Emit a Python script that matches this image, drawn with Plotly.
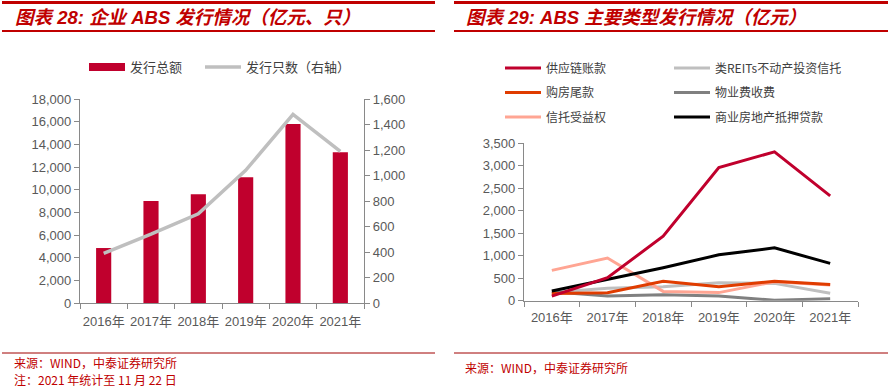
import plotly.graph_objects as go

W, H = 890, 391

# ---------------- data ----------------
years = ["2016年", "2017年", "2018年", "2019年", "2020年", "2021年"]
issue_amount = [4850, 9000, 9600, 11100, 15800, 13300]      # 发行总额 (亿元)
issue_count = [390, 540, 700, 1040, 1480, 1190]             # 发行只数 (右轴)

supply_chain = [100, 510, 1435, 2960, 3310, 2330]           # 供应链账款
reits = [185, 275, 310, 400, 385, 165]                      # 类REITs不动产投资信托
home_tail = [160, 178, 430, 310, 435, 362]                  # 购房尾款
property_fee = [200, 104, 130, 104, 8, 45]                  # 物业费收费
trust = [674, 948, 207, 180, 422, 348]                      # 信托受益权
cmbs = [215, 480, 733, 1020, 1175, 830]                     # 商业房地产抵押贷款

RED = "#C0002D"
TITLE_RED = "#C00000"
AXIS = "#898989"
TICK = "#595959"
NUM_FONT = "Arial, Liberation Sans, Noto Sans CJK SC"
CJK = "Noto Sans CJK SC"


def fx(p):
    return p / W


def fy(p):
    return 1 - p / H


fig = go.Figure()

# ---------------- left chart ----------------
fig.add_trace(go.Bar(x=years, y=issue_amount, marker=dict(color=RED, line=dict(width=0)),
                     width=0.32, showlegend=False, xaxis="x", yaxis="y", name="发行总额"))
fig.add_trace(go.Scatter(x=[years[0]], y=[None], mode="lines", name="发行总额",
                         line=dict(color=RED, width=8), xaxis="x", yaxis="y", legend="legend"))
fig.add_trace(go.Scatter(x=years, y=issue_count, mode="lines", name="发行只数（右轴）",
                         line=dict(color="#BFBFBF", width=3.5), xaxis="x", yaxis="y2", legend="legend4"))

# ---------------- right chart ----------------
right_series = [
    ("类REITs不动产投资信托", reits, "#BFBFBF", "legend3", 1),
    ("物业费收费", property_fee, "#808080", "legend3", 2),
    ("信托受益权", trust, "#FFA593", "legend2", 3),
    ("购房尾款", home_tail, "#E03C00", "legend2", 2),
    ("商业房地产抵押贷款", cmbs, "#000000", "legend3", 3),
    ("供应链账款", supply_chain, RED, "legend2", 1),
]
for name, vals, col, leg, rank in right_series:
    fig.add_trace(go.Scatter(x=years, y=vals, mode="lines", name=name,
                             line=dict(color=col, width=3), xaxis="x2", yaxis="y3",
                             legend=leg, legendgroup=name, legendrank=rank))

axis_common = dict(showline=True, linecolor=AXIS, linewidth=1.3, ticks="outside",
                   tickcolor=AXIS, ticklen=5, showgrid=False, zeroline=False, tickangle=0,
                   automargin=False,
                   tickfont=dict(family=NUM_FONT, size=13, color=TICK))

leg_common = dict(itemwidth=36, bgcolor="rgba(0,0,0,0)", xanchor="left", yanchor="top",
                  xref="paper", yref="paper")

fig.update_layout(
    width=W, height=H,
    margin=dict(l=0, r=0, t=0, b=0, autoexpand=False),
    paper_bgcolor="white", plot_bgcolor="white",
    font=dict(family=CJK),
    xaxis=dict(domain=[fx(80), fx(364)], anchor="y", type="category", tickson="boundaries",
               range=[-0.5, 5.5], ticklabelstandoff=6, **axis_common),
    yaxis=dict(domain=[fy(303), fy(99)], range=[0, 18000], dtick=2000, tickformat=",",
               anchor="x", **axis_common),
    yaxis2=dict(overlaying="y", side="right", range=[0, 1600], dtick=200, tickformat=",",
                anchor="x", **axis_common),
    xaxis2=dict(domain=[fx(524), fx(858)], anchor="y3", type="category", tickson="boundaries",
                range=[-0.5, 5.5], ticklabelstandoff=5, **axis_common),
    yaxis3=dict(domain=[fy(300.7), fy(143.3)], range=[0, 3500], dtick=500, tickformat=",",
                anchor="x2", **axis_common),
    legend=dict(orientation="v", x=fx(84), y=fy(52),
                font=dict(family=CJK, size=13, color="#404040"), **leg_common),
    legend4=dict(orientation="v", x=fx(200), y=fy(52),
                 font=dict(family=CJK, size=13, color="#404040"), **leg_common),
    legend2=dict(orientation="v", x=fx(500), y=fy(53.5), tracegroupgap=5.5,
                 font=dict(family=CJK, size=12, color="#404040"), **leg_common),
    legend3=dict(orientation="v", x=fx(669), y=fy(53.5), tracegroupgap=5.5,
                 font=dict(family=CJK, size=12, color="#404040"), **leg_common),
)

# ---------------- decoration: rules, titles, sources ----------------
shapes = []
for x0, x1 in [(2, 435), (454, 888)]:
    shapes.append(dict(type="line", xref="paper", yref="paper", x0=fx(x0), x1=fx(x1),
                       y0=fy(2.5), y1=fy(2.5), line=dict(color=TITLE_RED, width=3)))
    shapes.append(dict(type="line", xref="paper", yref="paper", x0=fx(x0), x1=fx(x1),
                       y0=fy(31), y1=fy(31), line=dict(color=TITLE_RED, width=2)))
    shapes.append(dict(type="line", xref="paper", yref="paper", x0=fx(x0), x1=fx(x1),
                       y0=fy(353), y1=fy(353), line=dict(color="#A00000", width=1)))
fig.update_layout(shapes=shapes)

ann = [
    dict(text="<b><i>图表 28: 企业 ABS 发行情况（亿元、只）</i></b>", x=fx(13), y=fy(17.5)),
    dict(text="<b><i>图表 29: ABS 主要类型发行情况（亿元）</i></b>", x=fx(464), y=fy(17.5)),
]
for a in ann:
    a.update(xref="paper", yref="paper", xanchor="left", yanchor="middle", showarrow=False,
             font=dict(family="Arial, " + CJK, size=18.5, color=TITLE_RED))
src = [
    dict(text="来源：WIND，中泰证券研究所", x=fx(12), y=fy(362)),
    dict(text="注：2021 年统计至 11 月 22 日", x=fx(12), y=fy(379.5)),
    dict(text="来源：WIND，中泰证券研究所", x=fx(463), y=fy(367)),
]
for a in src:
    a.update(xref="paper", yref="paper", xanchor="left", yanchor="middle", showarrow=False,
             font=dict(family=CJK, size=12, color=TITLE_RED))
fig.update_layout(annotations=ann + src)

fig.write_html(
    "out.html",
    config={"displayModeBar": False},
    post_script="document.body.style.margin='0';document.body.style.padding='0';"
                "document.body.style.overflow='hidden';",
)
